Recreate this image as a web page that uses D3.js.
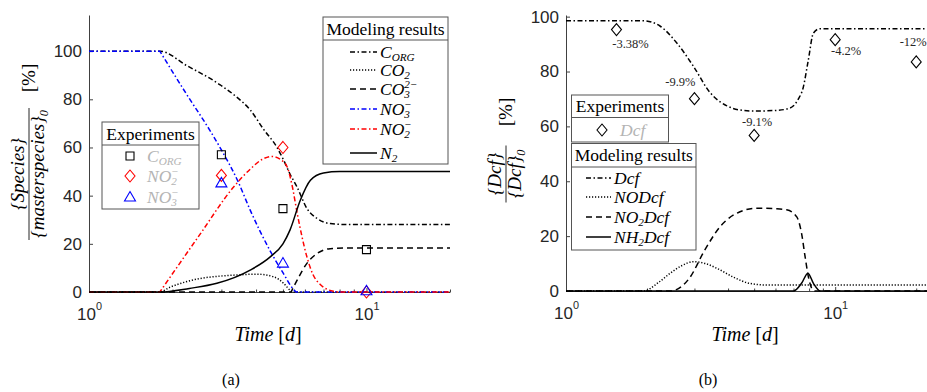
<!DOCTYPE html>
<html>
<head>
<meta charset="utf-8">
<script src="https://cdn.jsdelivr.net/npm/d3@7"></script>
<style>
    body { margin: 0; background: #fff; }
    svg { display: block; }
    .tick text { font-family: "Liberation Sans", Arial, sans-serif; font-size: 17px; fill: #262626; }
    .tick line, .domain { stroke: #404040; }
    .serif { font-family: "Liberation Serif", "Times New Roman", serif; fill: #000; font-weight: normal; }
</style>
</head>
<body>
<svg id="chart" width="927" height="392"></svg>
<script>
// ---- data (a): model curves, [time in d, percent]
var cOrgModel = [[1, 100], [1.8, 100], [2.25, 94], [2.97, 86], [3.4, 81], [3.81, 75.6], [4.26, 67.5], [4.76, 60], [5.03, 54.7], [5.3, 49], [5.62, 43.6], [6.1, 34.7], [6.64, 30.5], [7.4, 28.4], [8.5, 28], [20, 28]];
var co2Model = [[1, 0], [1.8, 0], [1.96, 2], [2.2, 4], [2.51, 5.6], [2.9, 6.5], [3.32, 7], [4.03, 7.4], [4.63, 6.3], [5.03, 3.6], [5.3, 0.8], [5.45, 0], [20, 0]];
var co3Model = [[1, 0], [5.35, 0], [5.6, 4.5], [6.1, 11.9], [6.64, 16], [7.4, 18], [8.5, 18.3], [20, 18.3]];
var no3Model = [[1, 100], [1.8, 100], [2.25, 82], [2.73, 67], [3.0, 59], [3.44, 46], [3.81, 34], [4.5, 17], [5.0, 8], [5.47, 1], [5.6, 0], [20, 0]];
var no2Model = [[1, 0], [1.8, 0], [2.5, 23.6], [3.32, 43.6], [3.81, 51], [4.2, 55], [4.56, 56.3], [4.9, 55], [5.18, 51.9], [5.4, 44], [5.63, 32.6], [6.1, 14.6], [6.4, 7.5], [6.83, 3], [7.6, 0.3], [8, 0], [20, 0]];
var n2Model = [[1, 0], [1.8, 0], [2.3, 1.5], [2.89, 3.6], [3.81, 9.1], [4.5, 14.6], [5.0, 20], [5.3, 25.7], [5.77, 38], [6.28, 46.4], [7.0, 49.4], [8, 50], [20, 50]];

// (a): experiments
var expTimes = [3, 5, 10];
var cOrgExp = [57, 34.6, 17.6];
var no2Exp = [48.4, 60, 0];
var no3Exp = [45.3, 12, 0.5];

// ---- data (b)
var dcfModel = [[1, 98.5], [1.94, 98.5], [2.24, 96.5], [2.58, 90.4], [2.97, 82], [3.43, 72.3], [3.96, 67.5], [4.4, 66], [5, 65.6], [6, 65.8], [6.7, 66.5], [7.0, 67.5], [7.3, 70], [7.6, 74], [7.94, 84], [8.3, 94], [8.77, 95.6], [22.5, 95.6]];
var nodcfModel = [[1, 0], [1.94, 0], [2.2, 3], [2.44, 6.5], [2.7, 9.3], [2.97, 10.7], [3.3, 10], [3.63, 8.3], [4.2, 5], [4.8, 2.8], [5.5, 2.2], [22.5, 2.2]];
var no2dcfModel = [[1, 0], [2.44, 0], [2.87, 4.6], [3.28, 15], [3.74, 23.5], [4.43, 28.9], [5.12, 30.2], [6.0, 30], [6.6, 29.6], [7.2, 27], [7.5, 21], [7.73, 12.5], [7.95, 5.2], [8.18, 1], [8.4, 0], [22.5, 0]];
var nh2dcfModel = [[1, 0], [7.0, 0], [7.5, 2.8], [7.92, 6.5], [8.3, 2.8], [8.8, 0], [22.5, 0]];

var dcfExpTimes = [1.54, 3, 5, 10, 20];
var dcfExp = [95.3, 70.1, 56.7, 91.6, 83.5];
var dcfExpLabels = ["-3.38%", "-9.9%", "-9.1%", "-4.2%", "-12%"];

var yTicks = [0, 20, 40, 60, 80, 100];
var xMajor = [1, 10];
var xMinor = [2, 3, 4, 5, 6, 7, 8, 9, 20];

// ---- styles / layout
var serifFont = "'Liberation Serif', 'Times New Roman', serif";
var dashDot = "5,2.5,1.5,2.5";
var dotted = "1.2,1.8";
var dashed = "6,4";
var markerPath = {
    square: "M-4,-4H4V4H-4Z",
    diamond: "M0,-6L5,0L0,6L-5,0Z",
    triangle: "M0,-5.5L5.5,4L-5.5,4Z"
};
var labelOffsets = [[14, 13.5], [-14, -17], [3, -14], [11, 10.5], [-3, -20]];

var svg = d3.select("#chart");

var xL = d3.scaleLog().domain([1, 20]).range([89, 450]);
var yL = d3.scaleLinear().domain([0, 115]).range([292, 15]);
var xR = d3.scaleLog().domain([1, 22.5]).range([566, 930]);
var yR = d3.scaleLinear().domain([0, 100.6]).range([291, 15]);

// text with sub / superscripts
function rich(text, parts, base, supShift) {
    var shift = 0;
    var small = base * 0.64;
    var subShift = base * 0.22;
    supShift = base * (supShift || 0.36);
    parts.forEach(function (p) {
        if (p.t != null) {
            text.append("tspan").attr("dy", -shift).style("font-size", base + "px").text(p.t);
            shift = 0;
        }
        if (p.sub != null) {
            var s = text.append("tspan").attr("dy", subShift - shift).style("font-size", small + "px").text(p.sub);
            shift = subShift;
            if (p.sup != null) {
                var w = s.node().getComputedTextLength();
                text.append("tspan").attr("dx", -w).attr("dy", -supShift - shift)
                    .style("font-size", small + "px").text(p.sup);
                shift = -supShift;
            }
        } else if (p.sup != null) {
            text.append("tspan").attr("dy", -supShift - shift).style("font-size", small + "px").text(p.sup);
            shift = -supShift;
        }
    });
    return text;
}

function serifText(parent) {
    return parent.append("text").attr("class", "serif").attr("font-family", serifFont);
}

function drawAxes(x, y) {
    var x0 = x.range()[0], y0 = y.range()[0];
    svg.append("g").attr("transform", "translate(" + x0 + ",0)")
        .call(d3.axisLeft(y).tickValues(yTicks).tickSize(-4).tickSizeOuter(0).tickPadding(7));

    var minor = svg.append("g").attr("transform", "translate(0," + y0 + ")")
        .call(d3.axisBottom(x).tickValues(xMinor).tickSize(-2.5).tickSizeOuter(0).tickFormat(""));
    minor.select(".domain").remove();

    var major = svg.append("g").attr("transform", "translate(0," + y0 + ")")
        .call(d3.axisBottom(x).tickValues(xMajor).tickSize(-4).tickSizeOuter(0).tickFormat(""));
    major.selectAll(".tick").each(function (d) {
        var t = d3.select(this).append("text").attr("y", 28).attr("text-anchor", "middle");
        rich(t, [{ t: "10" }, { sup: String(Math.round(Math.log10(d))) }], 17, 0.6);
    });
}

function seriesPath(x, y, s) {
    var lin = d3.line().x(function (d) { return x(d[0]); }).y(function (d) { return y(d[1]); });
    var smooth = d3.line().x(function (d) { return x(d[0]); }).y(function (d) { return y(d[1]); }).curve(d3.curveMonotoneX);
    if (!s.corner) return smooth(s.data);
    return lin(s.data.slice(0, s.corner + 1)) + smooth(s.data.slice(s.corner)).replace(/^M/, "L");
}

function drawSeries(x, y, list) {
    list.forEach(function (s) {
        svg.append("path")
            .attr("d", seriesPath(x, y, s))
            .attr("fill", "none")
            .attr("stroke", s.color)
            .attr("stroke-width", 1.5)
            .attr("stroke-dasharray", s.dash);
    });
}

function drawMarkers(x, y, times, values, shape, color) {
    svg.append("g").selectAll("path").data(values).join("path")
        .attr("transform", function (d, i) { return "translate(" + x(times[i]) + "," + y(d) + ")"; })
        .attr("d", markerPath[shape])
        .attr("fill", "none")
        .attr("stroke", color)
        .attr("stroke-width", 1.1);
}

function legendBox(box, title) {
    var g = svg.append("g");
    g.append("rect").attr("x", box.x0).attr("y", box.y0)
        .attr("width", box.x1 - box.x0).attr("height", box.y1 - box.y0)
        .attr("fill", "#fff").attr("stroke", "#555").attr("stroke-width", 1);
    g.append("line").attr("x1", box.x0).attr("x2", box.x1).attr("y1", box.sep).attr("y2", box.sep)
        .attr("stroke", "#555").attr("stroke-width", 1);
    serifText(g).attr("x", (box.x0 + box.x1) / 2).attr("y", (box.y0 + box.sep) / 2 + 6)
        .attr("text-anchor", "middle").style("font-size", "17.5px").text(title);
    return g;
}

function lineLegend(box, title, list, rows, lx0, lx1) {
    var g = legendBox(box, title);
    list.forEach(function (s, i) {
        g.append("line").attr("x1", lx0).attr("x2", lx1).attr("y1", rows[i]).attr("y2", rows[i])
            .attr("stroke", s.color).attr("stroke-width", 1.5).attr("stroke-dasharray", s.dash);
        var t = serifText(g).attr("x", lx1 + 3).attr("y", rows[i] + 5.5).style("font-style", "italic");
        rich(t, s.label, 17.5);
    });
}

function markerLegend(box, title, list, rows, mx, tx) {
    var g = legendBox(box, title);
    list.forEach(function (s, i) {
        g.append("path").attr("transform", "translate(" + mx + "," + rows[i] + ")")
            .attr("d", markerPath[s.shape]).attr("fill", "none").attr("stroke", s.color).attr("stroke-width", 1.1);
        var t = serifText(g).attr("x", tx).attr("y", rows[i] + 5.5)
            .style("font-style", "italic").style("fill", "#b4b4b4");
        rich(t, s.label, 17.5);
    });
}

function yLabel(cx, cy, barHalf, num, den, pctX) {
    var g = svg.append("g").attr("transform", "translate(" + cx + "," + cy + ") rotate(-90)");
    g.append("line").attr("x1", -barHalf).attr("x2", barHalf).attr("stroke", "#262626").attr("stroke-width", 1);
    rich(serifText(g).attr("y", -5).attr("text-anchor", "middle").style("font-style", "italic"), num, 19);
    rich(serifText(g).attr("y", 15).attr("text-anchor", "middle").style("font-style", "italic"), den, 19);
    serifText(g).attr("x", pctX).attr("y", 6).attr("text-anchor", "middle")
        .style("font-size", "19px").text("[%]");
}

function timeLabel(cx) {
    var t = serifText(svg).attr("x", cx).attr("y", 341)
        .attr("text-anchor", "middle").style("font-size", "20px");
    t.append("tspan").style("font-style", "italic").text("Time ");
    t.append("tspan").text("[");
    t.append("tspan").style("font-style", "italic").text("d");
    t.append("tspan").text("]");
}

// ================= (a)
var leftModel = [
    { label: [{ t: "C" }, { sub: "ORG" }], data: cOrgModel, color: "#000", dash: dashDot },
    { label: [{ t: "CO" }, { sub: "2" }], data: co2Model, color: "#000", dash: dotted },
    { label: [{ t: "CO" }, { sub: "3", sup: "2\u2212" }], data: co3Model, color: "#000", dash: dashed, corner: 1 },
    { label: [{ t: "NO" }, { sub: "3", sup: "\u2212" }], data: no3Model, color: "#00f", dash: dashDot, corner: 1 },
    { label: [{ t: "NO" }, { sub: "2", sup: "\u2212" }], data: no2Model, color: "#f00", dash: dashDot, corner: 1 },
    { label: [{ t: "N" }, { sub: "2" }], data: n2Model, color: "#000", dash: null }
];
var leftExp = [
    { label: [{ t: "C" }, { sub: "ORG" }], values: cOrgExp, shape: "square", color: "#000" },
    { label: [{ t: "NO" }, { sub: "2", sup: "\u2212" }], values: no2Exp, shape: "diamond", color: "#f00" },
    { label: [{ t: "NO" }, { sub: "3", sup: "\u2212" }], values: no3Exp, shape: "triangle", color: "#00f" }
];

drawAxes(xL, yL);
drawSeries(xL, yL, leftModel);
leftExp.forEach(function (e) { drawMarkers(xL, yL, expTimes, e.values, e.shape, e.color); });
lineLegend({ x0: 323, y0: 17, x1: 448, y1: 164, sep: 40 }, "Modeling results", leftModel, [52, 70, 89, 109, 129, 153], 350, 377);
markerLegend({ x0: 102, y0: 122, x1: 199, y1: 209, sep: 145 }, "Experiments", leftExp, [156, 176, 197], 130, 147);
yLabel(29, 174, 66, [{ t: "{Species}" }], [{ t: "{masterspecies}" }, { sub: "0" }], 96);
timeLabel(268);
serifText(svg).attr("x", 231).attr("y", 385).attr("text-anchor", "middle")
    .style("font-size", "16px").text("(a)");

// ================= (b)
var rightModel = [
    { label: [{ t: "Dcf" }], data: dcfModel, color: "#000", dash: dashDot },
    { label: [{ t: "NODcf" }], data: nodcfModel, color: "#000", dash: dotted },
    { label: [{ t: "NO" }, { sub: "2" }, { t: "Dcf" }], data: no2dcfModel, color: "#000", dash: dashed },
    { label: [{ t: "NH" }, { sub: "2" }, { t: "Dcf" }], data: nh2dcfModel, color: "#000", dash: null }
];
var rightExp = [
    { label: [{ t: "Dcf" }], values: dcfExp, shape: "diamond", color: "#000" }
];

drawAxes(xR, yR);
drawSeries(xR, yR, rightModel);
drawMarkers(xR, yR, dcfExpTimes, dcfExp, "diamond", "#000");
svg.append("g").selectAll("text").data(dcfExpLabels).join("text")
    .attr("class", "serif")
    .attr("font-family", serifFont)
    .attr("x", function (d, i) { return xR(dcfExpTimes[i]) + labelOffsets[i][0]; })
    .attr("y", function (d, i) { return yR(dcfExp[i]) + labelOffsets[i][1] + 4.5; })
    .attr("text-anchor", "middle")
    .style("font-size", "12.5px")
    .style("fill", "#262626")
    .text(function (d) { return d; });
markerLegend({ x0: 571.5, y0: 95, x1: 668.5, y1: 142, sep: 117.5 }, "Experiments", rightExp, [130], 602, 620);
lineLegend({ x0: 571.5, y0: 143.5, x1: 696, y1: 250, sep: 167 }, "Modeling results", rightModel, [178, 197, 217, 237], 586, 611);
yLabel(506, 174, 28.5, [{ t: "{Dcf}" }], [{ t: "{Dcf}" }, { sub: "0" }], 62);
timeLabel(745);
serifText(svg).attr("x", 708).attr("y", 385).attr("text-anchor", "middle")
    .style("font-size", "16px").text("(b)");
</script>
</body>
</html>
